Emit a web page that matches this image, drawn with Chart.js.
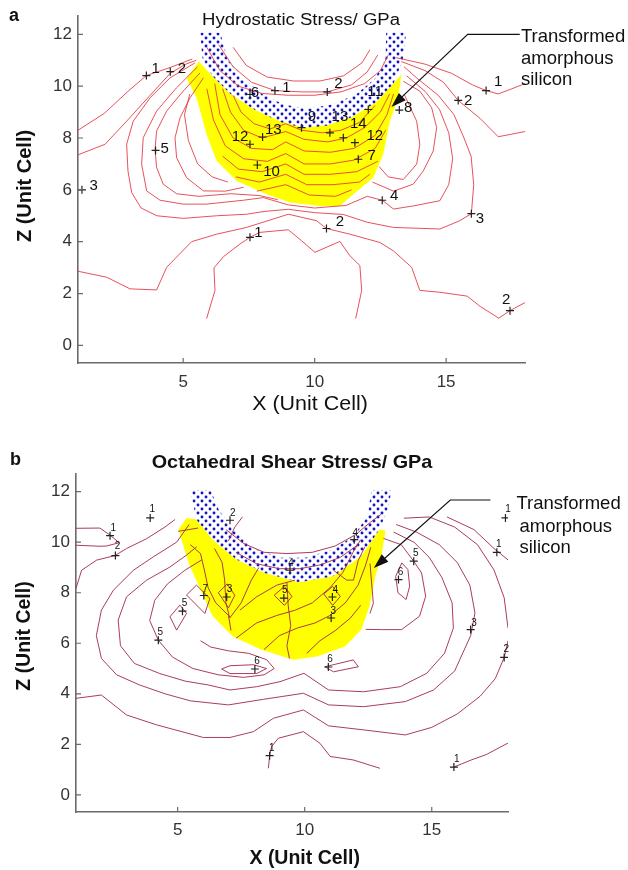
<!DOCTYPE html>
<html>
<head>
<meta charset="utf-8">
<title>Stress contours under the indenter</title>
<script src="https://cdn.jsdelivr.net/npm/chart.js@4.4.1/dist/chart.umd.min.js"></script>
<style>
  html, body { margin: 0; padding: 0; background: #fff; }
  .panel { position: absolute; left: 0; width: 628px; height: 435px; }
  #panelA { top: 0; }
  #panelB { top: 435px; }
</style>
</head>
<body>
<div class="panel" id="panelA"><canvas id="chartA" width="628" height="435"></canvas></div>
<div class="panel" id="panelB"><canvas id="chartB" width="628" height="435"></canvas></div>
<script>
// shared axis ticks
const xTicks = [5, 10, 15];
const zTicks = [0, 2, 4, 6, 8, 10, 12];

// ---------- panel a : hydrostatic stress ----------
const aYellow = [[5.13,10.32],[5.6,10.95],[6.1,10.4],[6.8,9.7],[7.7,9.1],[8.7,8.65],[9.6,8.4],[10.5,8.5],[11.4,8.8],[12.3,9.35],[13.0,10.1],[13.3,10.45],[13.18,9.55],[12.86,8.65],[12.61,7.37],[12.23,6.47],[11.47,5.83],[10.96,5.38],[10.2,5.38],[9.06,5.51],[8.17,5.83],[7.03,6.35],[6.27,7.12],[5.89,8.14],[5.51,9.55]];
const aIndenter = [[5.65,12.06],[5.73,11.1],[6.1,10.4],[6.8,9.7],[7.7,9.1],[8.7,8.62],[9.6,8.38],[10.5,8.48],[11.4,8.8],[12.3,9.35],[13.0,10.1],[13.35,11.0],[13.48,12.06],[12.72,12.06],[12.7,11.1],[12.3,10.3],[11.6,9.7],[10.7,9.3],[9.7,9.12],[8.8,9.3],[8.0,9.7],[7.3,10.3],[6.7,11.0],[6.41,12.06]];

const aC1Left = [[1.0,8.3],[2.0,8.95],[2.9,9.8],[3.6,10.41],[4.5,10.72],[5.35,11.05]];
const aC2Left = [[1.0,7.35],[2.03,7.76],[2.85,8.65],[3.7,9.6],[4.51,10.5],[5.1,10.85],[5.5,11.0]];
const aRing3 = [[5.45,10.9],[4.5,10.32],[3.74,9.55],[3.1,8.65],[2.85,7.76],[2.9,6.73],[3.04,5.9],[3.4,5.3],[4.0,5.0],[5.0,4.9],[6.27,5.0],[7.41,5.06],[8.11,5.17],[9.0,5.25],[10.0,5.12],[11.09,5.05],[12.0,4.75],[13.0,4.55],[14.76,4.49],[15.5,4.8],[15.96,5.08],[16.05,6.2],[15.95,7.3],[15.68,8.0],[15.3,8.9],[14.7,9.65],[13.9,10.3],[13.4,10.75]];
const aRing4 = [[5.55,10.75],[4.75,9.94],[3.99,9.04],[3.48,8.01],[3.42,6.99],[3.61,5.96],[4.12,5.6],[5.0,5.45],[5.89,5.45],[7.29,5.6],[8.05,5.7],[9.0,5.42],[10.0,5.3],[11.2,5.4],[12.0,5.75],[12.57,5.6],[13.0,5.26],[13.75,5.38],[14.76,5.58],[15.1,6.2],[15.25,7.2],[15.1,8.2],[14.75,9.1],[14.2,9.8],[13.5,10.4]];
const aRing5L = [[5.64,10.51],[5.0,9.81],[4.37,9.04],[3.99,8.27],[3.93,7.56],[3.99,6.86],[4.24,6.22],[4.75,5.85],[5.6,5.75],[6.8,5.85],[7.9,5.78],[8.6,5.62]];
const aRing5R = [[13.37,10.19],[14.0,9.81],[14.45,9.17],[14.64,8.4],[14.51,7.5],[14.13,6.73],[13.75,6.22],[13.0,5.95],[12.2,6.3]];
const aRing6L = [[5.77,10.32],[5.26,9.55],[4.88,8.78],[4.69,8.01],[4.75,7.24],[5.13,6.47],[5.77,5.96],[6.6,5.95],[7.3,6.1]];
const aRing6R = [[13.4,9.7],[13.88,8.65],[14.0,7.76],[13.88,6.99],[13.37,6.4],[12.8,6.5],[12.45,6.9]];
const aRing7L = [[5.25,9.7],[5.05,8.9],[5.2,7.9],[5.55,7.0],[6.1,6.5],[6.7,6.3]];
const aC1Right = [[13.1,11.1],[14.2,10.85],[15.2,10.5],[16.0,10.05],[16.52,9.83],[16.98,9.7],[17.5,9.9],[18.0,10.1]];
const aC2Right = [[13.3,10.95],[14.2,10.6],[14.9,10.15],[15.46,9.45],[16.3,8.75],[16.98,8.05],[17.5,8.15],[18.0,8.25]];
const aC2Low = [[1.0,2.86],[2.09,2.63],[2.98,2.18],[3.99,2.14],[4.37,3.01],[5.32,4.0],[6.27,4.29],[7.41,4.55],[9.0,5.06],[10.07,4.81],[10.45,4.51],[11.34,4.29],[12.48,3.97],[12.99,3.65],[13.69,3.01],[14.0,2.12],[14.76,2.05],[15.8,1.9],[16.3,1.5],[17.0,1.05],[17.43,1.34],[18.0,1.65]];
const aC1Arch = [[5.89,1.03],[6.21,2.12],[6.17,2.99],[6.53,3.42],[7.16,3.91],[7.54,4.17],[7.92,4.36],[9.0,4.46],[9.5,4.04],[10.01,3.59],[10.96,4.01],[11.34,3.46],[11.72,3.08],[11.79,2.12],[11.56,1.03]];
const aT1 = [[5.9,11.5],[6.4,10.6],[7.1,10.0],[8.0,9.72],[9.0,9.65],[10.0,9.65],[11.0,9.78],[11.9,10.1],[12.5,10.6],[12.8,11.2]];
const aT2 = [[6.35,11.6],[6.9,10.75],[7.6,10.15],[8.49,9.83],[9.5,9.78],[10.48,9.78],[11.4,10.05],[12.0,10.55],[12.4,11.2]];
const aT3 = [[6.9,11.5],[7.4,10.8],[8.2,10.35],[9.2,10.2],[10.2,10.2],[11.1,10.4],[11.8,10.9],[12.1,11.4]];
const aIn1 = [[6.9,9.65],[7.2,9.0],[7.7,8.55],[8.3,8.35],[8.9,8.55],[9.5,8.3],[10.3,8.2],[11.0,8.3],[11.7,8.6],[12.3,9.25]];
const aIn2 = [[6.5,9.9],[6.8,9.0],[7.3,8.3],[8.0,8.0],[8.9,8.25],[9.6,7.95],[10.5,7.85],[11.2,8.0],[11.9,8.4],[12.5,9.0],[12.85,9.7]];
const aIn3 = [[6.2,10.1],[6.4,8.9],[6.9,8.0],[7.6,7.6],[8.4,7.55],[8.9,7.85],[9.6,7.5],[10.6,7.45],[11.5,7.6],[12.3,8.1],[12.75,8.9],[13.0,9.7]];
const aIn4 = [[5.9,9.9],[6.15,8.7],[6.6,7.7],[7.3,7.2],[8.2,7.1],[8.9,7.4],[9.6,7.0],[10.6,7.0],[11.5,7.15],[12.3,7.6],[12.7,8.3]];
const aIn5 = [[6.5,7.3],[7.1,6.8],[8.0,6.7],[8.9,7.0],[9.6,6.6],[10.6,6.6],[11.6,6.7],[12.4,7.1]];
const aIn6 = [[7.0,6.5],[7.9,6.3],[8.9,6.6],[9.7,6.2],[10.7,6.2],[11.7,6.3],[12.1,6.6]];
const aIn7 = [[7.8,5.95],[8.9,6.2],[9.8,5.8],[10.8,5.75],[11.4,6.0]];

const aMarkX = [3.6, 4.51, 1.15, 3.95, 7.54, 8.49, 10.48, 12.04, 13.22, 9.5, 10.58, 11.09, 11.53, 11.66, 8.02, 7.54, 7.82, 12.57, 15.96, 15.46, 16.52, 17.43, 7.54, 10.45];
const aMarkZ = [10.41, 10.56, 6.0, 7.52, 9.68, 9.83, 9.78, 9.1, 9.08, 8.4, 8.2, 8.01, 7.82, 7.18, 8.04, 7.76, 6.96, 5.6, 5.08, 9.45, 9.83, 1.34, 4.17, 4.51];
const aLevel = ['1','2','3','5','6','1','2','11','8','9','13','14','12','7','13','12','10','4','3','2','1','2','1','2'];
const aLevelX = [3.95, 4.95, 1.6, 4.3, 7.73, 8.93, 10.9, 12.3, 13.56, 9.9, 10.96, 11.66, 12.29, 12.17, 8.43, 7.16, 8.36, 13.02, 16.29, 15.84, 16.98, 17.28, 7.86, 10.96];
const aLevelZ = [10.65, 10.68, 6.15, 7.6, 9.74, 9.94, 10.09, 9.8, 9.17, 8.8, 8.81, 8.53, 8.08, 7.31, 8.33, 8.04, 6.71, 5.76, 4.87, 9.45, 10.15, 1.75, 4.36, 4.78];
const aArrow = [[17.8,12.0],[15.82,12.0],[12.92,9.2]];

// ---------- panel b : octahedral shear stress ----------
const bYellow = [[5.03,10.5],[5.35,10.96],[5.74,10.9],[6.38,10.1],[7.33,9.31],[8.43,8.78],[9.78,8.41],[11.12,8.65],[12.23,9.45],[12.94,10.5],[13.18,10.45],[13.02,9.45],[12.78,8.65],[12.55,7.46],[12.23,6.54],[11.6,5.88],[10.49,5.48],[9.54,5.35],[8.28,5.75],[7.17,6.27],[6.38,7.07],[5.9,8.12],[5.43,9.18]];
const bIndenter = [[5.5,12.06],[5.74,10.9],[6.38,10.1],[7.33,9.31],[8.43,8.78],[9.78,8.41],[11.12,8.65],[12.23,9.45],[12.94,10.5],[13.26,11.29],[13.42,12.06],[12.63,12.06],[12.47,11.03],[11.91,10.24],[11.12,9.71],[10.02,9.38],[9.07,9.38],[8.12,9.71],[7.17,10.5],[6.61,11.29],[6.3,12.06]];

const bC1Left = [[1.0,10.55],[1.94,10.56],[2.34,10.28],[2.7,9.98],[2.2,9.85],[1.94,9.84],[1.0,9.88]];
const bC2Left = [[1.0,8.17],[1.22,8.89],[1.81,9.29],[2.53,9.47],[2.99,9.75],[3.78,10.14],[4.5,10.6],[4.9,10.9]];
const bC2Mid = [[7.0,10.05],[7.25,10.6],[7.55,11.0]];
const bRing3 = [[5.45,10.7],[4.96,10.0],[4.04,9.42],[3.26,8.89],[2.47,8.1],[2.0,7.31],[1.8,6.3],[2.0,5.4],[2.6,4.75],[3.5,4.35],[4.5,4.0],[5.5,3.72],[7.0,3.56],[8.37,3.78],[9.95,4.02],[10.94,3.56],[12.32,3.49],[13.96,3.69],[15.07,4.15],[15.9,4.9],[16.53,6.3],[16.7,7.2],[16.5,8.3],[16.0,9.2],[15.3,9.9],[14.4,10.4],[13.6,10.7]];
const bRing4 = [[5.75,9.82],[5.35,9.49],[4.7,9.02],[3.78,8.5],[2.99,7.84],[2.66,6.92],[2.75,5.9],[3.3,5.2],[4.3,4.8],[5.3,4.5],[6.2,4.35],[7.06,4.15],[8.11,4.28],[9.03,4.48],[9.97,4.81],[10.94,4.15],[12.32,4.08],[13.76,4.28],[14.8,4.81],[15.5,5.6],[15.85,6.6],[15.8,7.6],[15.4,8.6],[14.9,9.4],[14.3,10.0],[13.5,10.4]];
const bRing5L = [[5.95,9.3],[5.3,8.9],[4.6,8.35],[4.1,7.7],[3.9,6.9],[4.24,6.12],[4.8,5.45],[5.6,5.0],[6.6,4.75],[7.6,4.65],[8.4,4.75],[8.8,5.0],[8.5,5.35],[7.8,5.6],[7.0,5.7],[6.3,5.85],[5.9,6.1]];
const bRing5R = [[13.1,10.15],[13.8,9.9],[14.29,9.25],[14.6,8.78],[14.76,7.86],[14.52,7.07],[13.81,6.54],[13.02,6.54],[12.4,6.55]];
const bLoop6R = [[13.58,8.65],[13.82,9.18],[14.06,8.92],[14.13,8.26],[13.99,7.73],[13.67,8.0],[13.58,8.65]];
const bLoop6L = [[6.73,4.98],[7.06,5.11],[7.98,5.15],[8.5,5.0],[8.11,4.8],[7.06,4.8],[6.73,4.98]];
const bLoop6B = [[10.8,5.07],[11.91,5.34],[12.11,5.07],[11.13,4.87],[10.8,5.07]];
const bLoop5a = [[4.7,7.05],[5.09,7.51],[5.35,7.18],[4.96,6.52],[4.7,7.05]];
const bLoop7 = [[5.35,7.91],[5.74,8.3],[6.27,7.77],[6.07,7.18],[5.35,7.91]];
const bLoop3 = [[6.6,8.0],[6.95,8.35],[7.25,7.9],[7.0,7.4],[6.6,8.0]];
const bLoop5b = [[8.8,7.9],[9.2,8.25],[9.5,7.85],[9.2,7.5],[8.8,7.9]];
const bLoop4 = [[10.75,7.95],[11.1,8.25],[11.4,7.85],[11.1,7.5],[10.75,7.95]];
const bIn1 = [[5.02,10.43],[5.8,10.56]];
const bIn2 = [[5.5,9.9],[5.9,9.55],[6.05,8.9],[6.2,8.2],[6.5,7.6],[7.0,7.1],[7.1,6.5]];
const bIn3 = [[6.45,9.75],[6.75,9.2],[6.85,8.5],[6.9,7.6],[7.05,7.0],[7.5,7.6],[7.9,8.5],[8.2,9.0]];
const bIn4 = [[7.45,7.31],[8.11,7.84],[8.9,8.3],[9.62,8.5]];
const bIn5 = [[7.3,6.2],[8.1,6.8],[8.9,7.1],[9.6,7.3],[10.3,7.6],[11.0,8.2],[11.5,8.8],[11.9,9.6],[12.2,10.1]];
const bIn6 = [[8.4,5.75],[9.0,6.3],[9.7,6.6],[10.4,6.8],[11.0,7.1],[11.6,7.6],[12.1,8.3],[12.4,9.1],[12.6,9.8]];
const bIn7 = [[10.08,5.6],[10.6,6.1],[11.2,6.5],[11.8,7.0],[12.2,7.5]];
const bIn8 = [[9.3,8.4],[9.35,7.5],[9.45,6.7],[9.3,5.9],[9.4,5.4]];
const bIn9 = [[11.13,8.89],[11.65,8.5],[11.92,8.5],[12.11,9.29],[12.37,9.82]];
const bIn10 = [[12.57,9.16],[12.7,7.58],[12.57,7.18]];
const bT1 = [[6.9,10.5],[7.6,9.95],[8.4,9.6],[9.3,9.55],[10.3,9.6],[11.2,9.85],[12.0,10.3],[12.6,10.8],[13.0,11.1]];
const bT2 = [[7.3,9.6],[8.1,9.15],[9.0,8.95],[9.8,8.95],[10.6,9.1],[11.4,9.4],[12.1,9.9]];
const bC1Right = [[15.6,11.0],[16.66,10.5],[17.45,9.75],[18.0,9.3]];
const bC2Right = [[13.9,10.95],[14.9,11.0],[15.9,10.6],[16.8,9.9],[17.45,8.9],[17.85,7.8],[18.0,6.6]];
const bC2Low = [[1.0,3.82],[2.0,3.95],[2.99,3.16],[4.17,2.77],[6.01,2.27],[7.06,2.27],[7.98,2.5],[8.77,3.03],[9.95,3.36],[10.94,2.73],[12.32,2.57],[13.96,2.37],[15.0,2.67],[16.0,3.2],[16.9,3.9],[17.5,4.6],[17.85,5.44],[18.0,6.1]];
const bC1Arch = [[8.57,1.05],[8.62,1.55],[8.7,1.91],[8.96,2.24],[9.95,2.5],[10.6,2.04],[11.0,1.52],[11.91,1.38],[12.96,1.05]];
const bC1BotRight = [[15.87,1.1],[16.58,1.39],[17.14,1.59],[18.0,2.05]];

const bMarkX = [2.34, 2.55, 3.92, 7.06, 5.19, 4.24, 6.03, 6.93, 9.18, 11.09, 11.04, 9.42, 11.95, 14.29, 13.69, 16.53, 17.85, 17.56, 17.9, 8.04, 10.93, 8.62, 15.87];
const bMarkZ = [10.26, 9.47, 10.96, 10.87, 7.27, 6.12, 7.89, 7.83, 7.79, 7.83, 7.0, 8.89, 10.1, 9.25, 8.52, 6.54, 5.44, 9.6, 10.96, 4.98, 5.06, 1.55, 1.1];
const bLevel = ['1','2','1','2','5','5','7','3','5','4','3','4','4','5','6','3','2','1','1','6','6','1','1'];
const bLevelX = [2.47, 2.63, 4.0, 7.17, 5.27, 4.32, 6.09, 7.04, 9.22, 11.2, 11.12, 9.46, 11.99, 14.37, 13.77, 16.66, 17.93, 17.64, 18.0, 8.12, 11.0, 8.7, 15.98];
const bLevelZ = [10.57, 9.84, 11.29, 11.16, 7.57, 6.43, 8.15, 8.15, 8.1, 8.1, 7.27, 9.18, 10.37, 9.55, 8.81, 6.8, 5.75, 9.91, 11.29, 5.28, 5.35, 1.85, 1.39];
const bArrow = [[17.31,11.67],[15.73,11.67],[12.72,8.98]];

const FONT = "'Liberation Sans', Arial, Helvetica, sans-serif";

// blue dotted fill for the indenter tip
function dotPattern(ctx) {
  const tile = document.createElement('canvas');
  tile.width = 8; tile.height = 8;
  const g = tile.getContext('2d');
  g.fillStyle = '#1414c8';
  [[2, 2], [6, 6]].forEach(([cx, cy]) => { g.beginPath(); g.arc(cx, cy, 1.45, 0, Math.PI * 2); g.fill(); });
  return ctx.createPattern(tile, 'repeat');
}

function drawText(ctx, t) {
  ctx.save();
  ctx.translate(t.x, t.y);
  if (t.rot) ctx.rotate(t.rot);
  ctx.scale(t.sx || 1, 1);
  ctx.font = t.font;
  ctx.textAlign = t.align || 'center';
  ctx.textBaseline = 'alphabetic';
  ctx.fillStyle = '#111';
  ctx.fillText(t.s, 0, 0);
  ctx.restore();
}

// inward ticks, level numbers, arrow and all the loose text
const overlay = {
  id: 'overlay',
  afterDraw(chart, args, o) {
    const { ctx, chartArea: area, scales: { x, y } } = chart;
    const px = v => x.getPixelForValue(v);
    const py = v => y.getPixelForValue(v);
    ctx.save();
    ctx.strokeStyle = '#6b6b6b';
    ctx.lineWidth = 1.2;
    ctx.beginPath();
    xTicks.forEach(v => { ctx.moveTo(px(v), area.bottom); ctx.lineTo(px(v), area.bottom - 5); });
    zTicks.forEach(v => { ctx.moveTo(area.left, py(v)); ctx.lineTo(area.left + 5, py(v)); });
    ctx.stroke();

    ctx.fillStyle = '#111';
    ctx.font = o.levelFont;
    ctx.textAlign = 'center';
    ctx.textBaseline = 'middle';
    o.level.forEach((s, i) => ctx.fillText(s, px(o.levelX[i]), py(o.levelZ[i])));

    const pts = o.arrow.map(([ax, az]) => [px(ax), py(az)]);
    const [u1, v1] = pts[pts.length - 2];
    const [u2, v2] = pts[pts.length - 1];
    const ang = Math.atan2(v2 - v1, u2 - u1);
    const len = 15, half = 5;
    ctx.strokeStyle = '#111';
    ctx.lineWidth = 1.2;
    ctx.beginPath();
    pts.slice(0, -1).forEach(([u, v], i) => (i ? ctx.lineTo(u, v) : ctx.moveTo(u, v)));
    ctx.lineTo(u2 - len * Math.cos(ang) * 0.8, v2 - len * Math.sin(ang) * 0.8);
    ctx.stroke();
    ctx.beginPath();
    ctx.moveTo(u2, v2);
    ctx.lineTo(u2 - len * Math.cos(ang) + half * Math.sin(ang), v2 - len * Math.sin(ang) - half * Math.cos(ang));
    ctx.lineTo(u2 - len * Math.cos(ang) - half * Math.sin(ang), v2 - len * Math.sin(ang) + half * Math.cos(ang));
    ctx.closePath();
    ctx.fill();

    o.texts.forEach(t => drawText(ctx, t));
    ctx.restore();
  }
};

function buildChart(id, p) {
  const ctx = document.getElementById(id).getContext('2d');
  const toXY = pts => pts.map(([x, z]) => ({ x, y: z }));
  const line = pts => ({
    data: toXY(pts), showLine: true, fill: false, tension: 0,
    borderColor: p.lineColor, borderWidth: 1, pointRadius: 0, order: 2
  });
  const shape = (pts, bg, order) => ({
    data: toXY(pts), showLine: true, fill: 'shape', tension: 0,
    borderColor: 'rgba(0,0,0,0)', borderWidth: 1, backgroundColor: bg, pointRadius: 0, order
  });
  const tickFont = { family: FONT, size: 17 };
  return new Chart(ctx, {
    type: 'scatter',
    data: {
      datasets: [
        shape(p.yellow, '#ffff00', 4),
        shape(p.indenter, dotPattern(ctx), 3),
        ...p.lines.map(line),
        {
          data: p.markX.map((x, i) => ({ x, y: p.markZ[i] })),
          pointStyle: 'cross', pointRadius: 4, borderColor: '#222', borderWidth: 1.2, order: 1
        }
      ]
    },
    options: {
      responsive: false, animation: false, devicePixelRatio: 1, events: [],
      layout: { padding: p.padding },
      plugins: {
        legend: { display: false },
        tooltip: { enabled: false },
        overlay: { level: p.level, levelX: p.levelX, levelZ: p.levelZ, levelFont: p.levelFont, arrow: p.arrow, texts: p.texts }
      },
      scales: {
        x: {
          type: 'linear', min: 1, max: 18,
          afterBuildTicks: s => { s.ticks = xTicks.map(v => ({ value: v })); },
          afterFit: s => { s.height = p.xAxisH; },
          grid: { display: false, drawTicks: false },
          border: { display: true, color: '#6b6b6b', width: 1.6 },
          ticks: { font: tickFont, color: '#333', padding: p.xPad, maxRotation: 0, autoSkip: false }
        },
        y: {
          type: 'linear', min: -0.68, max: 12.7,
          afterBuildTicks: s => { s.ticks = zTicks.map(v => ({ value: v })); },
          afterFit: s => { s.width = p.yAxisW; },
          grid: { display: false, drawTicks: false },
          border: { display: true, color: '#6b6b6b', width: 1.6 },
          ticks: { font: tickFont, color: '#333', padding: 6, autoSkip: false }
        }
      }
    },
    plugins: [overlay]
  });
}

buildChart('chartA', {
  yellow: aYellow, indenter: aIndenter,
  lines: [aC1Left, aC2Left, aRing3, aRing4, aRing5L, aRing5R, aRing6L, aRing6R, aRing7L, aC1Right, aC2Right, aC2Low, aC1Arch, aT1, aT2, aT3, aIn1, aIn2, aIn3, aIn4, aIn5, aIn6, aIn7],
  lineColor: 'rgba(226,52,62,0.85)',
  markX: aMarkX, markZ: aMarkZ, level: aLevel, levelX: aLevelX, levelZ: aLevelZ,
  levelFont: '15px ' + FONT, arrow: aArrow,
  padding: { left: 0, right: 103, top: 15, bottom: 0 }, yAxisW: 78, xAxisH: 72, xPad: 9,
  texts: [
    { s: 'a', x: 14, y: 21, font: 'bold 18px ' + FONT },
    { s: 'Hydrostatic Stress/ GPa', x: 301, y: 24.5, font: '16px ' + FONT, sx: 1.16 },
    { s: 'X (Unit Cell)', x: 310, y: 410, font: '19.5px ' + FONT, sx: 1.1 },
    { s: 'Z (Unit Cell)', x: 30.5, y: 186, font: 'bold 20px ' + FONT, rot: -Math.PI / 2 },
    { s: 'Transformed', x: 521, y: 41.5, font: '18.5px ' + FONT, align: 'left' },
    { s: 'amorphous', x: 521, y: 63.5, font: '18.5px ' + FONT, align: 'left' },
    { s: 'silicon', x: 521, y: 85, font: '18.5px ' + FONT, align: 'left' }
  ]
});

buildChart('chartB', {
  yellow: bYellow, indenter: bIndenter,
  lines: [bC1Left, bC2Left, bC2Mid, bRing3, bRing4, bRing5L, bRing5R, bLoop6R, bLoop6L, bLoop6B, bLoop5a, bLoop7, bLoop3, bLoop5b, bLoop4, bIn1, bIn2, bIn3, bIn4, bIn5, bIn6, bIn7, bIn8, bIn9, bIn10, bT1, bT2, bC1Right, bC2Right, bC2Low, bC1Arch, bC1BotRight],
  lineColor: 'rgba(160,40,75,0.9)',
  markX: bMarkX, markZ: bMarkZ, level: bLevel, levelX: bLevelX, levelZ: bLevelZ,
  levelFont: '10px ' + FONT, arrow: bArrow,
  padding: { left: 0, right: 120, top: 39, bottom: 0 }, yAxisW: 76, xAxisH: 58, xPad: 8,
  texts: [
    { s: 'b', x: 15.5, y: 30, font: 'bold 18px ' + FONT },
    { s: 'Octahedral Shear Stress/ GPa', x: 292, y: 32.5, font: 'bold 18.5px ' + FONT, sx: 1.07 },
    { s: 'X (Unit Cell)', x: 304.7, y: 429, font: 'bold 19.5px ' + FONT },
    { s: 'Z (Unit Cell)', x: 30, y: 201, font: 'bold 19.5px ' + FONT, rot: -Math.PI / 2 },
    { s: 'Transformed', x: 516.5, y: 74.3, font: '18.5px ' + FONT, align: 'left' },
    { s: 'amorphous', x: 519.5, y: 96.5, font: '18.5px ' + FONT, align: 'left' },
    { s: 'silicon', x: 519.5, y: 118, font: '18.5px ' + FONT, align: 'left' }
  ]
});
</script>
</body>
</html>
